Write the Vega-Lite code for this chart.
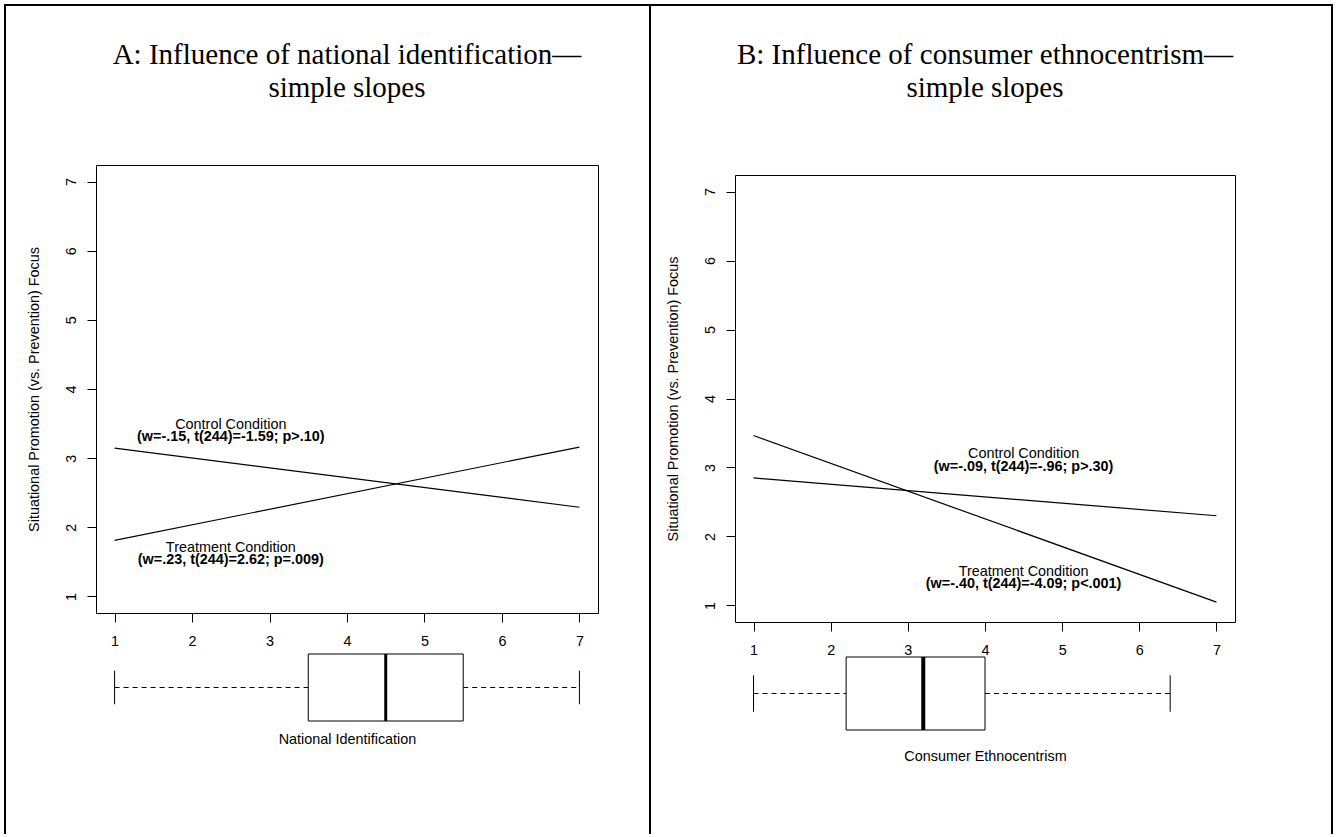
{
  "$schema": "https://vega.github.io/schema/vega-lite/v6.json",
  "background": "white",
  "padding": {"left": 3, "top": 3, "right": 0, "bottom": 0},
  "spacing": -4,
  "bounds": "full",
  "config": {
    "font": "Liberation Sans",
    "view": {"stroke": "black", "strokeWidth": 1},
    "axis": {
      "grid": false, "domain": false, "tickColor": "black", "tickSize": 9, "tickWidth": 1,
      "labelColor": "black", "labelFont": "Liberation Sans", "labelFontSize": 14.4, "labelPadding": 12,
      "titleFont": "Liberation Sans", "titleFontSize": 14.4, "titleFontWeight": "normal", "titleColor": "black"
    },
    "title": {"font": "Liberation Serif", "fontSize": 29, "fontWeight": "normal", "color": "black", "anchor": "middle", "frame": "group", "lineHeight": 33, "baseline": "bottom"},
    "text": {"font": "Liberation Sans", "fontSize": 14.4, "color": "black"}
  },
  "datasets": {
    "linesA": [
      {"condition": "Control", "x": 1, "y": 3.145},
      {"condition": "Control", "x": 7, "y": 2.29},
      {"condition": "Treatment", "x": 1, "y": 1.81},
      {"condition": "Treatment", "x": 7, "y": 3.16}
    ],
    "labelsA": [
      {"x": 2.5, "y": 3.48, "style": "plain", "label": "Control Condition"},
      {"x": 2.5, "y": 3.31, "style": "bold", "label": "(w=-.15, t(244)=-1.59; p>.10)"},
      {"x": 2.5, "y": 1.70, "style": "plain", "label": "Treatment Condition"},
      {"x": 2.5, "y": 1.53, "style": "bold", "label": "(w=.23, t(244)=2.62; p=.009)"}
    ],
    "boxA": [{"lo": 1, "q1": 3.5, "median": 4.5, "q3": 5.5, "hi": 7}],
    "linesB": [
      {"condition": "Control", "x": 1, "y": 2.848},
      {"condition": "Control", "x": 7, "y": 2.30},
      {"condition": "Treatment", "x": 1, "y": 3.463},
      {"condition": "Treatment", "x": 7, "y": 1.048}
    ],
    "labelsB": [
      {"x": 4.5, "y": 3.19, "style": "plain", "label": "Control Condition"},
      {"x": 4.5, "y": 3.01, "style": "bold", "label": "(w=-.09, t(244)=-.96; p>.30)"},
      {"x": 4.5, "y": 1.49, "style": "plain", "label": "Treatment Condition"},
      {"x": 4.5, "y": 1.31, "style": "bold", "label": "(w=-.40, t(244)=-4.09; p<.001)"}
    ],
    "boxB": [{"lo": 1, "q1": 2.2, "median": 3.2, "q3": 4.0, "hi": 6.4}]
  },
  "hconcat": [
    {
      "bounds": "flush",
      "spacing": 41,
      "vconcat": [
        {
          "width": 502,
          "height": 448,
          "title": {"text": ["A: Influence of national identification—", "simple slopes"], "offset": 62},
          "layer": [
            {
              "data": {"name": "linesA"},
              "mark": {"type": "line", "color": "black", "strokeWidth": 1.2},
              "encoding": {
                "x": {"field": "x", "type": "quantitative", "scale": {"domain": [0.76, 7.24], "nice": false, "zero": false},
                      "axis": {"values": [1, 2, 3, 4, 5, 6, 7], "format": "d", "title": null, "labelAngle": 0}},
                "y": {"field": "y", "type": "quantitative", "scale": {"domain": [0.76, 7.24], "nice": false, "zero": false},
                      "axis": {"values": [1, 2, 3, 4, 5, 6, 7], "format": "d", "title": "Situational Promotion (vs. Prevention) Focus", "labelAngle": -90, "labelAlign": "center", "labelBaseline": "alphabetic", "titlePadding": 22}},
                "detail": {"field": "condition"}
              }
            },
            {
              "data": {"name": "labelsA"},
              "transform": [{"filter": "datum.style === 'plain'"}],
              "mark": {"type": "text", "align": "center", "baseline": "middle"},
              "encoding": {"x": {"field": "x", "type": "quantitative"}, "y": {"field": "y", "type": "quantitative"}, "text": {"field": "label"}}
            },
            {
              "data": {"name": "labelsA"},
              "transform": [{"filter": "datum.style === 'bold'"}],
              "mark": {"type": "text", "align": "center", "baseline": "middle", "fontWeight": "bold"},
              "encoding": {"x": {"field": "x", "type": "quantitative"}, "y": {"field": "y", "type": "quantitative"}, "text": {"field": "label"}}
            }
          ]
        },
        {
          "width": 502,
          "height": 67,
          "view": {"stroke": null},
          "data": {"name": "boxA"},
          "layer": [
            {
              "mark": {"type": "rule", "color": "black", "strokeWidth": 1, "strokeDash": [5, 4]},
              "encoding": {
                "x": {"field": "lo", "type": "quantitative", "scale": {"domain": [0.76, 7.24], "nice": false, "zero": false},
                      "axis": {"title": "National Identification", "labels": false, "ticks": false, "domain": false, "titlePadding": 11}},
                "x2": {"field": "q1"},
                "y": {"datum": 0.5, "type": "quantitative", "scale": {"domain": [0, 1], "nice": false, "zero": false}, "axis": null}
              }
            },
            {
              "mark": {"type": "rule", "color": "black", "strokeWidth": 1, "strokeDash": [5, 4]},
              "encoding": {"x": {"field": "q3", "type": "quantitative"}, "x2": {"field": "hi"}, "y": {"datum": 0.5, "type": "quantitative", "axis": null}}
            },
            {
              "mark": {"type": "rule", "color": "black", "strokeWidth": 1},
              "encoding": {"x": {"field": "lo", "type": "quantitative"}, "y": {"datum": 0.25, "type": "quantitative", "axis": null}, "y2": {"datum": 0.75}}
            },
            {
              "mark": {"type": "rule", "color": "black", "strokeWidth": 1},
              "encoding": {"x": {"field": "hi", "type": "quantitative"}, "y": {"datum": 0.25, "type": "quantitative", "axis": null}, "y2": {"datum": 0.75}}
            },
            {
              "mark": {"type": "rect", "fill": "white", "stroke": "black", "strokeWidth": 1},
              "encoding": {"x": {"field": "q1", "type": "quantitative"}, "x2": {"field": "q3"}, "y": {"datum": 0, "type": "quantitative", "axis": null}, "y2": {"datum": 1}}
            },
            {
              "mark": {"type": "rule", "color": "black", "strokeWidth": 3},
              "encoding": {"x": {"field": "median", "type": "quantitative"}, "y": {"datum": 0, "type": "quantitative", "axis": null}, "y2": {"datum": 1}}
            },
            {
              "data": {"values": [{}]},
              "mark": {"type": "rule", "color": "black", "strokeWidth": 2, "strokeCap": "square"},
              "encoding": {"x": {"datum": -0.4147}, "y": {"datum": 10.6866, "axis": null}, "y2": {"datum": -1.6716}}
            },
            {
              "data": {"values": [{}]},
              "mark": {"type": "rule", "color": "black", "strokeWidth": 2, "strokeCap": "square"},
              "encoding": {"x": {"datum": 7.9113}, "y": {"datum": 10.6866, "axis": null}, "y2": {"datum": -1.6716}}
            },
            {
              "data": {"values": [{}]},
              "mark": {"type": "rule", "color": "black", "strokeWidth": 2, "strokeCap": "square"},
              "encoding": {"x": {"datum": -0.4147}, "x2": {"datum": 7.9113}, "y": {"datum": 10.6866, "axis": null}}
            }
          ]
        }
      ]
    },
    {
      "bounds": "flush",
      "spacing": 0,
      "vconcat": [
        {
          "width": 500,
          "height": 10,
          "view": {"stroke": null},
          "data": {"values": [{}]},
          "mark": {"type": "text", "text": ""},
          "encoding": {}
        },
        {
          "width": 500,
          "height": 447,
          "title": {"text": ["B: Influence of consumer ethnocentrism—", "simple slopes"], "offset": 72},
          "layer": [
            {
              "data": {"name": "linesB"},
              "mark": {"type": "line", "color": "black", "strokeWidth": 1.2},
              "encoding": {
                "x": {"field": "x", "type": "quantitative", "scale": {"domain": [0.76, 7.24], "nice": false, "zero": false},
                      "axis": {"values": [1, 2, 3, 4, 5, 6, 7], "format": "d", "title": null, "labelAngle": 0}},
                "y": {"field": "y", "type": "quantitative", "scale": {"domain": [0.76, 7.24], "nice": false, "zero": false},
                      "axis": {"values": [1, 2, 3, 4, 5, 6, 7], "format": "d", "title": "Situational Promotion (vs. Prevention) Focus", "labelAngle": -90, "labelAlign": "center", "labelBaseline": "alphabetic", "titlePadding": 22}},
                "detail": {"field": "condition"}
              }
            },
            {
              "data": {"name": "labelsB"},
              "transform": [{"filter": "datum.style === 'plain'"}],
              "mark": {"type": "text", "align": "center", "baseline": "middle"},
              "encoding": {"x": {"field": "x", "type": "quantitative"}, "y": {"field": "y", "type": "quantitative"}, "text": {"field": "label"}}
            },
            {
              "data": {"name": "labelsB"},
              "transform": [{"filter": "datum.style === 'bold'"}],
              "mark": {"type": "text", "align": "center", "baseline": "middle", "fontWeight": "bold"},
              "encoding": {"x": {"field": "x", "type": "quantitative"}, "y": {"field": "y", "type": "quantitative"}, "text": {"field": "label"}}
            }
          ]
        },
        {
          "width": 500,
          "height": 35,
          "view": {"stroke": null},
          "data": {"values": [{}]},
          "mark": {"type": "text", "text": ""},
          "encoding": {}
        },
        {
          "width": 500,
          "height": 73,
          "view": {"stroke": null},
          "data": {"name": "boxB"},
          "layer": [
            {
              "mark": {"type": "rule", "color": "black", "strokeWidth": 1, "strokeDash": [5, 4]},
              "encoding": {
                "x": {"field": "lo", "type": "quantitative", "scale": {"domain": [0.76, 7.24], "nice": false, "zero": false},
                      "axis": {"title": "Consumer Ethnocentrism", "labels": false, "ticks": false, "domain": false, "titlePadding": 19}},
                "x2": {"field": "q1"},
                "y": {"datum": 0.5, "type": "quantitative", "scale": {"domain": [0, 1], "nice": false, "zero": false}, "axis": null}
              }
            },
            {
              "mark": {"type": "rule", "color": "black", "strokeWidth": 1, "strokeDash": [5, 4]},
              "encoding": {"x": {"field": "q3", "type": "quantitative"}, "x2": {"field": "hi"}, "y": {"datum": 0.5, "type": "quantitative", "axis": null}}
            },
            {
              "mark": {"type": "rule", "color": "black", "strokeWidth": 1},
              "encoding": {"x": {"field": "lo", "type": "quantitative"}, "y": {"datum": 0.25, "type": "quantitative", "axis": null}, "y2": {"datum": 0.75}}
            },
            {
              "mark": {"type": "rule", "color": "black", "strokeWidth": 1},
              "encoding": {"x": {"field": "hi", "type": "quantitative"}, "y": {"datum": 0.25, "type": "quantitative", "axis": null}, "y2": {"datum": 0.75}}
            },
            {
              "mark": {"type": "rect", "fill": "white", "stroke": "black", "strokeWidth": 1},
              "encoding": {"x": {"field": "q1", "type": "quantitative"}, "x2": {"field": "q3"}, "y": {"datum": 0, "type": "quantitative", "axis": null}, "y2": {"datum": 1}}
            },
            {
              "mark": {"type": "rule", "color": "black", "strokeWidth": 4},
              "encoding": {"x": {"field": "median", "type": "quantitative"}, "y": {"datum": 0, "type": "quantitative", "axis": null}, "y2": {"datum": 1}}
            },
            {
              "data": {"values": [{}]},
              "mark": {"type": "rule", "color": "black", "strokeWidth": 2, "strokeCap": "square"},
              "encoding": {"x": {"datum": -0.3416}, "y": {"datum": 9.9315, "axis": null}, "y2": {"datum": -1.4110}}
            },
            {
              "data": {"values": [{}]},
              "mark": {"type": "rule", "color": "black", "strokeWidth": 2, "strokeCap": "square"},
              "encoding": {"x": {"datum": 8.4972}, "y": {"datum": 9.9315, "axis": null}, "y2": {"datum": -1.4110}}
            },
            {
              "data": {"values": [{}]},
              "mark": {"type": "rule", "color": "black", "strokeWidth": 2, "strokeCap": "square"},
              "encoding": {"x": {"datum": -0.3416}, "x2": {"datum": 8.4972}, "y": {"datum": 9.9315, "axis": null}}
            }
          ]
        }
      ]
    }
  ]
}
